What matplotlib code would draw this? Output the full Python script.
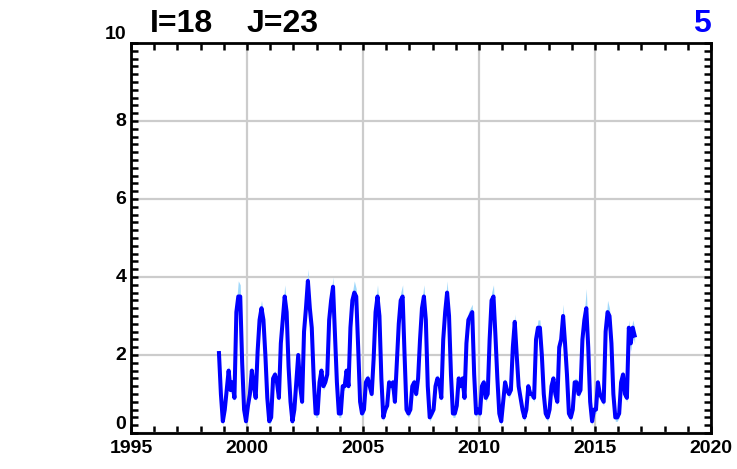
import numpy as np
import matplotlib.pyplot as plt
import matplotlib.transforms as mtransforms
from matplotlib.ticker import MultipleLocator

plt.rcParams['font.family'] = ['Liberation Sans', 'DejaVu Sans']
plt.rcParams['font.weight'] = 'bold'

# monthly series, first value is Oct 1998
START_YEAR, START_MONTH = 1998, 10

chl = [
    2.05, 1.0, 0.3,                                              # 1998
    0.6, 1.1, 1.6, 1.1, 1.3, 0.9, 3.1, 3.5, 3.5, 1.8, 0.6, 0.3,  # 1999
    0.7, 1.0, 1.6, 1.2, 0.9, 2.1, 2.9, 3.2, 2.9, 2.0, 0.9, 0.3,  # 2000
    0.4, 1.4, 1.5, 1.3, 0.9, 2.3, 2.9, 3.5, 3.1, 1.7, 0.8, 0.3,  # 2001
    0.6, 1.3, 2.0, 1.2, 0.8, 2.6, 3.2, 3.9, 3.2, 2.7, 1.4, 0.5,  # 2002
    0.5, 1.3, 1.6, 1.2, 1.3, 1.5, 2.9, 3.4, 3.75, 2.5, 1.3, 0.5, # 2003
    0.5, 1.2, 1.2, 1.6, 1.2, 2.7, 3.4, 3.6, 3.5, 2.2, 0.8, 0.5,  # 2004
    0.6, 1.3, 1.4, 1.2, 1.0, 1.9, 3.1, 3.5, 3.0, 1.4, 0.4, 0.6,  # 2005
    0.7, 1.3, 1.2, 1.3, 0.8, 1.8, 2.8, 3.4, 3.5, 2.0, 0.6, 0.5,  # 2006
    0.6, 1.2, 1.3, 1.0, 1.4, 2.4, 3.2, 3.5, 2.9, 1.2, 0.4, 0.5,  # 2007
    0.6, 1.2, 1.4, 1.3, 0.9, 2.4, 3.1, 3.6, 3.0, 1.5, 0.5, 0.5,  # 2008
    0.7, 1.4, 1.2, 1.4, 0.9, 2.3, 2.9, 3.0, 3.1, 1.5, 0.5, 0.6,  # 2009
    0.5, 1.2, 1.3, 0.9, 1.0, 2.4, 3.4, 3.5, 2.5, 1.4, 0.5, 0.3,  # 2010
    0.8, 1.3, 1.1, 1.0, 1.1, 2.2, 2.85, 2.0, 1.2, 0.9, 0.6, 0.4, # 2011
    0.6, 1.2, 1.0, 1.0, 0.9, 2.4, 2.7, 2.7, 2.0, 1.0, 0.5, 0.4,  # 2012
    0.6, 1.2, 1.4, 1.0, 0.8, 2.2, 2.4, 3.0, 2.3, 1.5, 0.5, 0.4,  # 2013
    0.6, 1.3, 1.3, 1.0, 1.1, 2.4, 2.9, 3.2, 2.2, 0.8, 0.3, 0.6,  # 2014
    0.6, 1.3, 1.0, 0.9, 0.8, 2.6, 3.1, 3.0, 2.3, 1.0, 0.4, 0.4,  # 2015
    0.5, 1.3, 1.5, 1.0, 0.9, 2.7, 2.3, 2.7, 2.5,                 # 2016
]

# half-width of the light band around the line
spread = [
    0.1, 0.1, 0.1,
    0.1, 0.1, 0.15, 0.1, 0.1, 0.1, 0.2, 0.4, 0.3, 0.1, 0.1, 0.1,
    0.1, 0.1, 0.1, 0.1, 0.1, 0.1, 0.2, 0.2, 0.15, 0.1, 0.1, 0.1,
    0.1, 0.1, 0.1, 0.1, 0.1, 0.1, 0.2, 0.3, 0.2, 0.1, 0.1, 0.1,
    0.1, 0.1, 0.1, 0.1, 0.1, 0.1, 0.2, 0.3, 0.2, 0.1, 0.1, 0.1,
    0.1, 0.1, 0.1, 0.1, 0.1, 0.1, 0.2, 0.2, 0.25, 0.1, 0.1, 0.1,
    0.1, 0.1, 0.1, 0.1, 0.1, 0.1, 0.2, 0.3, 0.2, 0.1, 0.1, 0.1,
    0.1, 0.1, 0.1, 0.1, 0.1, 0.1, 0.2, 0.3, 0.2, 0.1, 0.1, 0.1,
    0.1, 0.1, 0.1, 0.1, 0.1, 0.1, 0.2, 0.2, 0.3, 0.1, 0.1, 0.1,
    0.1, 0.1, 0.1, 0.1, 0.1, 0.1, 0.2, 0.3, 0.2, 0.1, 0.1, 0.1,
    0.1, 0.1, 0.1, 0.1, 0.1, 0.1, 0.2, 0.3, 0.2, 0.1, 0.1, 0.1,
    0.1, 0.1, 0.1, 0.1, 0.1, 0.1, 0.2, 0.2, 0.2, 0.1, 0.1, 0.1,
    0.1, 0.1, 0.1, 0.1, 0.1, 0.1, 0.2, 0.3, 0.2, 0.1, 0.1, 0.1,
    0.1, 0.1, 0.1, 0.1, 0.1, 0.1, 0.2, 0.2, 0.1, 0.1, 0.1, 0.1,
    0.1, 0.1, 0.1, 0.1, 0.1, 0.1, 0.2, 0.2, 0.2, 0.1, 0.1, 0.1,
    0.1, 0.1, 0.1, 0.1, 0.1, 0.1, 0.2, 0.3, 0.2, 0.1, 0.1, 0.1,
    0.1, 0.1, 0.1, 0.1, 0.1, 0.1, 0.2, 0.5, 0.2, 0.1, 0.1, 0.1,
    0.1, 0.1, 0.1, 0.1, 0.1, 0.1, 0.3, 0.2, 0.2, 0.1, 0.1, 0.1,
    0.1, 0.1, 0.1, 0.1, 0.1, 0.2, 0.2, 0.2, 0.2,
]

X_LIM = (1995, 2020)
Y_LIM = (0, 10)
Y_TICKS = [0, 2, 4, 6, 8, 10]
TITLE_LEFT = ["I=18", "J=23"]
TITLE_RIGHT = "5"

chl = np.array(chl)
spread = np.array(spread)
t = START_YEAR + (START_MONTH - 1 + np.arange(len(chl)) + 0.5) / 12

fig = plt.figure(figsize=(7.37, 4.69), dpi=100)
ax = fig.add_axes([131 / 737, 1 - 433 / 469, 580 / 737, 390 / 469])

ax.fill_between(t, chl - spread, chl + spread, color="#9fd8fb", lw=0, zorder=2)
ax.plot(t, chl, color="#0000ff", lw=2.9, zorder=3)

ax.set_xlim(*X_LIM)
ax.set_ylim(*Y_LIM)
ax.xaxis.set_major_locator(MultipleLocator(5))
ax.xaxis.set_minor_locator(MultipleLocator(1))
ax.set_yticks(Y_TICKS)
ax.yaxis.set_minor_locator(MultipleLocator(0.2))

ax.grid(True, which="major", color="#cccccc", lw=1.6, zorder=0)
ax.set_axisbelow(True)

for s in ax.spines.values():
    s.set_linewidth(2.0)
ax.tick_params(which="both", direction="in", top=True, right=True,
               length=5, width=1.8, color="black")
ax.tick_params(axis="x", labelsize=14, pad=5)
ax.tick_params(axis="y", labelleft=False)

# y labels: the end ones sit above their tick, as in the original
ytrans = mtransforms.blended_transform_factory(ax.transAxes, ax.transData)
for v in Y_TICKS:
    va = "bottom" if v in (Y_TICKS[0], Y_TICKS[-1]) else "center"
    ax.text(-0.008, v, str(v), transform=ytrans, ha="right", va=va,
            fontsize=14, fontweight="bold")

fig.text(150 / 737, 1 - 32 / 469, TITLE_LEFT[0], fontsize=23, fontweight="bold",
         ha="left", va="baseline")
fig.text(247 / 737, 1 - 32 / 469, TITLE_LEFT[1], fontsize=23, fontweight="bold",
         ha="left", va="baseline")
fig.text(711 / 737, 1 - 32 / 469, TITLE_RIGHT, fontsize=23, fontweight="bold",
         color="#0000ff", ha="right", va="baseline")

fig.savefig("out.png", dpi=100)
